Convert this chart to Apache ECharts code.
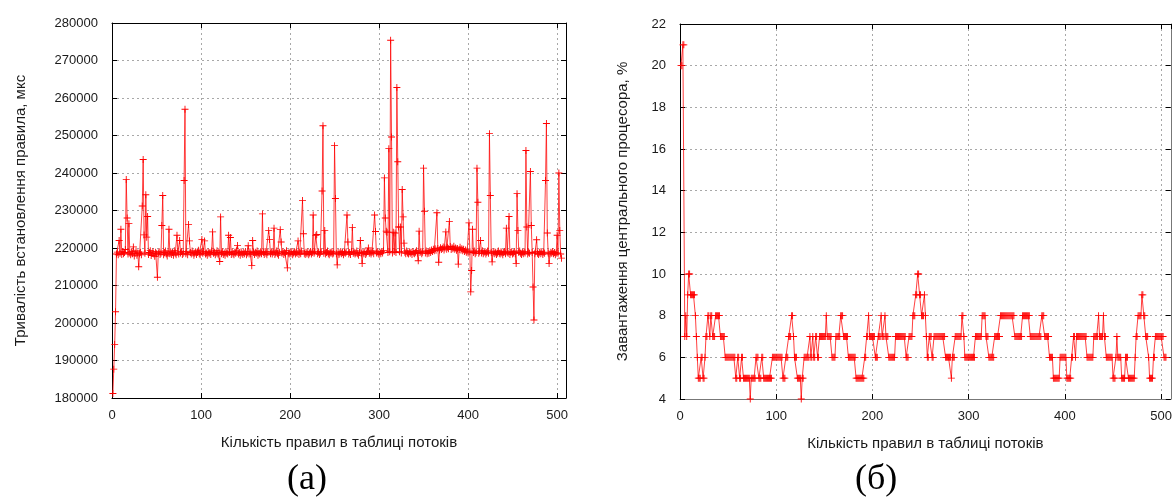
<!DOCTYPE html>
<html>
<head>
<meta charset="utf-8">
<script src="https://cdn.jsdelivr.net/npm/echarts@6/dist/echarts.min.js"></script>
<style>
  html, body { margin: 0; padding: 0; background: #ffffff; }
  #chart { width: 1175px; height: 500px; }
</style>
</head>
<body>
<div id="chart"></div>
<script>
// Rule setup time (µs) for each rule count 1..505
const setupTime = [
  181200, 187700, 194300, 203000, 218400, 218900, 218200, 222000, 218600, 225000,
  218300, 219100, 218500, 218800, 219600, 238300, 228000, 218400, 226500, 218700,
  218200, 219000, 218500, 220300, 217900, 218600, 219200, 218100, 218700, 215000,
  218500, 218900, 218200, 231200, 243600, 223500, 218600, 234200, 222900, 228400,
  218300, 218800, 219300, 218000, 218600, 219100, 218400, 217800, 218900, 218500,
  212200, 218700, 219000, 218300, 218600, 226000, 234000, 218200, 218800, 219200,
  218400, 217900, 218700, 225000, 218500, 219000, 218300, 218800, 218100, 219300,
  218600, 218200, 223400, 218900, 218400, 222000, 218700, 219100, 218300, 218600,
  238000, 257000, 218500, 219000, 218200, 226300, 221900, 218800, 218400, 219200,
  218700, 218100, 218600, 219000, 218300, 218800, 219400, 218500, 218200, 218900,
  222300, 218600, 219100, 221900, 218400, 218700, 218100, 219000, 218500, 218800,
  218300, 219200, 224300, 218600, 218900, 218200, 218700, 219300, 218400, 218800,
  216400, 228300, 218500, 219000, 218300, 218700, 218100, 219100, 218600, 218400,
  223400, 218800, 222800, 218300, 219000, 218500, 218200, 218900, 218600, 219200,
  220700, 218400, 218800, 218100, 219000, 218600, 218300, 218900, 218500, 219100,
  218200, 218700, 220600, 218400, 219000, 218500, 215300, 222000, 218800, 218300,
  218900, 218600, 219200, 218100, 218700, 218400, 219000, 218500, 229100, 218800,
  218300, 219100, 218600, 218200, 218900, 224700, 222300, 218500, 219000, 218400,
  218800, 225300, 218300, 218700, 219200, 218500, 218100, 218900, 224900, 221600,
  218600, 219000, 218300, 218800, 218500, 219300, 214700, 218700, 218400, 218900,
  218500, 219100, 218200, 218700, 219000, 218400, 218800, 218600, 221900, 218300,
  218900, 218500, 219200, 232700, 223800, 218600, 218300, 218900, 218500, 219000,
  218200, 218700, 219100, 218400, 218800, 228800, 218600, 219000, 223300, 223600,
  218500, 218900, 218300, 218700, 219100, 235200, 252600, 218600, 224700, 218400,
  218800, 219200, 218500, 218200, 218900, 218600, 219000, 218400, 218700, 247300,
  233200, 218500, 215500, 218900, 218300, 218700, 219100, 218500, 218800, 218200,
  218900, 218600, 219000, 228800, 221600, 218400, 218800, 218300, 219100, 225500,
  218600, 218900, 218400, 218700, 219200, 218500, 218100, 218800, 222000, 218600,
  215900, 218900, 218500, 219000, 218300, 218700, 219100, 220000, 218600, 218900,
  218400, 218800, 219200, 218500, 228800, 224400, 218700, 219000, 218600, 218300,
  218900, 218500, 219100, 218700, 219300, 238700, 228000, 224500, 224200, 218800,
  246500, 219000, 275400, 249600, 218700, 224200, 219100, 224000, 218800, 262800,
  243000, 225600, 219000, 225600, 218700, 235600, 228300, 221300, 218900, 218500,
  219200, 218700, 218400, 219000, 218600, 218900, 218300, 219100, 218700, 218500,
  218900, 219300, 218600, 216600, 224500, 218800, 219100, 218500, 218900, 241300,
  229800, 218700, 219200, 218500, 219000, 218600, 219300, 218800, 219500, 219100,
  219700, 219300, 219800, 219400, 229400, 219900, 216200, 219500, 220100, 219600,
  219900, 220300, 219500, 220000, 224300, 219700, 220200, 219800, 227100, 220400,
  219600, 220100, 219800, 220500, 219700, 220000, 219400, 219900, 215700, 219600,
  220200, 219500, 219800, 219300, 219700, 219100, 219500, 218900, 219200, 218700,
  226700, 219000, 208300, 214000, 225000, 218800, 219200, 218500, 218900, 241300,
  232200, 218600, 219000, 222000, 218700, 219300, 218500, 218900, 219100, 218400,
  218800, 219200, 218600, 250500, 234000, 218900, 216300, 218700, 219100, 218500,
  218900, 218300, 218700, 219200, 218600, 218400, 219000, 218700, 218200, 218800,
  219100, 218500, 225300, 218900, 218600, 228400, 218300, 218800, 219000, 218400,
  218700, 219100, 218500, 215900, 234500, 224700, 218800, 219200, 218600, 218300,
  218900, 218500, 219000, 218700, 246000, 225600, 218400, 218900, 218600, 240400,
  226000, 218800, 209600, 200800, 218500, 219000, 222200, 218600, 218300, 218900,
  218500, 219100, 218700, 218300, 218900, 218600, 238000, 253200, 224000, 218700,
  215900, 218400, 218900, 218600, 219100, 218500, 218800, 218200, 218700, 223400,
  218600, 240000, 224700, 218400, 217300
];

// CPU load (%) for each rule count 1..505
const cpuLoad = [
  20, 20, 21, 21, 7, 8, 7, 9, 10, 10,
  9, 9, 9, 9, 9, 8, 7, 6, 5, 5,
  5, 6, 6, 5, 5, 6, 7, 7, 8, 8,
  7, 8, 8, 7, 7, 7, 8, 8, 8, 8,
  8, 7, 7, 7, 7, 7, 6, 6, 6, 6,
  6, 6, 6, 6, 6, 6, 6, 5, 5, 6,
  6, 5, 5, 6, 6, 5, 5, 5, 5, 5,
  5, 5, 4, 5, 5, 5, 5, 5, 6, 6,
  6, 5, 5, 5, 6, 6, 5, 5, 5, 5,
  5, 5, 5, 5, 5, 6, 6, 6, 6, 6,
  6, 6, 6, 6, 6, 6, 5, 5, 5, 6,
  6, 6, 7, 7, 7, 8, 8, 7, 6, 6,
  6, 5, 5, 5, 5, 4, 5, 5, 6, 6,
  6, 6, 6, 6, 7, 6, 6, 7, 6, 6,
  7, 7, 6, 6, 7, 7, 7, 7, 7, 7,
  7, 8, 7, 7, 7, 7, 7, 6, 6, 6,
  6, 7, 7, 7, 7, 7, 8, 8, 8, 7,
  7, 7, 7, 7, 6, 6, 6, 6, 6, 6,
  6, 6, 5, 5, 5, 5, 5, 5, 5, 5,
  5, 6, 6, 7, 7, 8, 7, 7, 7, 7,
  7, 7, 6, 6, 6, 7, 7, 7, 8, 7,
  7, 7, 8, 7, 7, 7, 6, 6, 6, 6,
  6, 6, 6, 7, 7, 7, 7, 7, 7, 7,
  7, 7, 7, 7, 6, 6, 6, 7, 7, 7,
  7, 8, 8, 8, 9, 9, 10, 10, 9, 9,
  8, 8, 8, 9, 8, 7, 6, 6, 7, 7,
  7, 6, 6, 7, 7, 7, 7, 7, 7, 7,
  7, 7, 7, 7, 7, 6, 6, 6, 6, 6,
  6, 5, 6, 6, 6, 7, 7, 7, 7, 7,
  7, 7, 8, 8, 7, 6, 6, 6, 6, 6,
  6, 6, 6, 6, 6, 6, 7, 7, 7, 7,
  7, 7, 7, 8, 8, 8, 8, 7, 7, 7,
  6, 6, 6, 6, 6, 6, 7, 7, 7, 7,
  7, 7, 8, 8, 8, 8, 8, 8, 8, 8,
  8, 8, 8, 8, 8, 8, 8, 7, 7, 7,
  7, 7, 7, 7, 7, 8, 8, 8, 8, 8,
  8, 8, 8, 7, 7, 7, 7, 7, 7, 7,
  7, 7, 7, 7, 7, 8, 8, 8, 7, 7,
  7, 7, 7, 6, 6, 6, 6, 5, 5, 5,
  5, 5, 5, 5, 6, 6, 6, 6, 6, 6,
  6, 5, 5, 5, 5, 5, 6, 6, 7, 7,
  6, 7, 7, 7, 7, 7, 7, 7, 7, 7,
  7, 7, 6, 6, 6, 6, 6, 6, 6, 7,
  7, 7, 7, 7, 8, 7, 7, 7, 7, 8,
  7, 7, 6, 6, 6, 6, 6, 6, 6, 5,
  5, 5, 6, 7, 6, 6, 6, 6, 5, 5,
  5, 5, 6, 6, 6, 5, 5, 5, 5, 5,
  5, 5, 6, 7, 7, 8, 8, 8, 8, 9,
  9, 8, 8, 7, 7, 7, 6, 5, 5, 5,
  5, 6, 6, 7, 7, 7, 7, 7, 7, 7,
  7, 7, 6, 6, 6
];

const xAxisTitle = 'Кількість правил в таблиці потоків';
const timeAxisTitle = 'Тривалість встановлення правила, мкс';
const cpuAxisTitle = 'Завантаження центрального процесора, %';
const panelLabels = ['(а)', '(б)'];

const xRange = { min: 0, max: 510, step: 100 };
const timeRange = { min: 180000, max: 280000, step: 10000 };
const cpuRange = { min: 4, max: 22, step: 2 };

const SANS = '"Liberation Sans", Arial, Helvetica, sans-serif';
const SERIF = '"Liberation Serif", "Times New Roman", serif';
const RED = '#ff0000';
// "+" marker drawn as two thin filled bars
const PLUS = 'path://M0,3.5H8V4.5H0Z M3.5,0H4.5V8H3.5Z';

const toPoints = arr => arr.map((v, i) => [i + 1, v]);

const gridLine = { show: true, lineStyle: { color: '#a8a8a8', type: [2, 3], width: 1 } };
const tick = color => ({ show: true, inside: true, length: 5, lineStyle: { color: color, width: 1 } });
const label = { color: '#1a1a1a', fontSize: 13, fontFamily: SANS, formatter: v => String(v) };
const titleText = { color: '#1a1a1a', fontSize: 15, fontFamily: SANS };

function xAxes(gridIndex, bottomColor, topColor) {
  return [
    {
      type: 'value', gridIndex, position: 'bottom',
      min: xRange.min, max: xRange.max, interval: xRange.step,
      axisLine: { show: true, onZero: false, lineStyle: { color: bottomColor, width: 1 } },
      axisTick: tick('#000'),
      axisLabel: Object.assign({ margin: 11, showMaxLabel: false }, label),
      splitLine: gridLine,
      name: xAxisTitle, nameLocation: 'middle', nameGap: 37, nameTextStyle: titleText
    },
    {
      type: 'value', gridIndex, position: 'top',
      min: xRange.min, max: xRange.max, interval: xRange.step,
      axisLine: { show: true, onZero: false, lineStyle: { color: topColor, width: 1 } },
      axisTick: tick('#000'),
      axisLabel: { show: false },
      splitLine: { show: false }
    }
  ];
}

function yAxes(gridIndex, range, title, gap, leftColor, rightColor) {
  return [
    {
      type: 'value', gridIndex, position: 'left',
      min: range.min, max: range.max, interval: range.step,
      axisLine: { show: true, onZero: false, lineStyle: { color: leftColor, width: 1 } },
      axisTick: tick('#000'),
      axisLabel: Object.assign({ margin: 14 }, label),
      splitLine: gridLine,
      name: title, nameLocation: 'middle', nameGap: gap, nameRotate: 90, nameTextStyle: titleText
    },
    {
      type: 'value', gridIndex, position: 'right',
      min: range.min, max: range.max, interval: range.step,
      axisLine: { show: true, onZero: false, lineStyle: { color: rightColor, width: 1 } },
      axisTick: tick('#000'),
      axisLabel: { show: false },
      splitLine: { show: false }
    }
  ];
}

function plusLine(xAxisIndex, yAxisIndex, values) {
  return {
    type: 'line', xAxisIndex, yAxisIndex,
    data: toPoints(values),
    symbol: PLUS, symbolSize: 7,
    showSymbol: true,
    lineStyle: { color: RED, width: 1, opacity: 0.75 },
    itemStyle: { color: RED },
    emphasis: { disabled: true },
    clip: true, z: 3
  };
}

const chart = echarts.init(document.getElementById('chart'), null, { renderer: 'canvas' });
chart.setOption({
  animation: false,
  backgroundColor: '#ffffff',
  title: [
    { text: panelLabels[0], left: 287, top: 462, padding: 0,
      textStyle: { fontFamily: SERIF, fontSize: 36, fontWeight: 'normal', color: '#000' } },
    { text: panelLabels[1], left: 855, top: 462, padding: 0,
      textStyle: { fontFamily: SERIF, fontSize: 36, fontWeight: 'normal', color: '#000' } }
  ],
  grid: [
    { left: 112, top: 23, width: 454, height: 375, containLabel: false },
    { left: 680, top: 24, width: 491, height: 375, containLabel: false }
  ],
  xAxis: [].concat(xAxes(0, '#000', '#000'), xAxes(1, '#777', '#000')),
  yAxis: [].concat(
    yAxes(0, timeRange, timeAxisTitle, 84, '#000', '#000'),
    yAxes(1, cpuRange, cpuAxisTitle, 50, '#000', '#777')
  ),
  series: [
    plusLine(0, 0, setupTime),
    plusLine(2, 2, cpuLoad)
  ]
});
</script>
</body>
</html>
